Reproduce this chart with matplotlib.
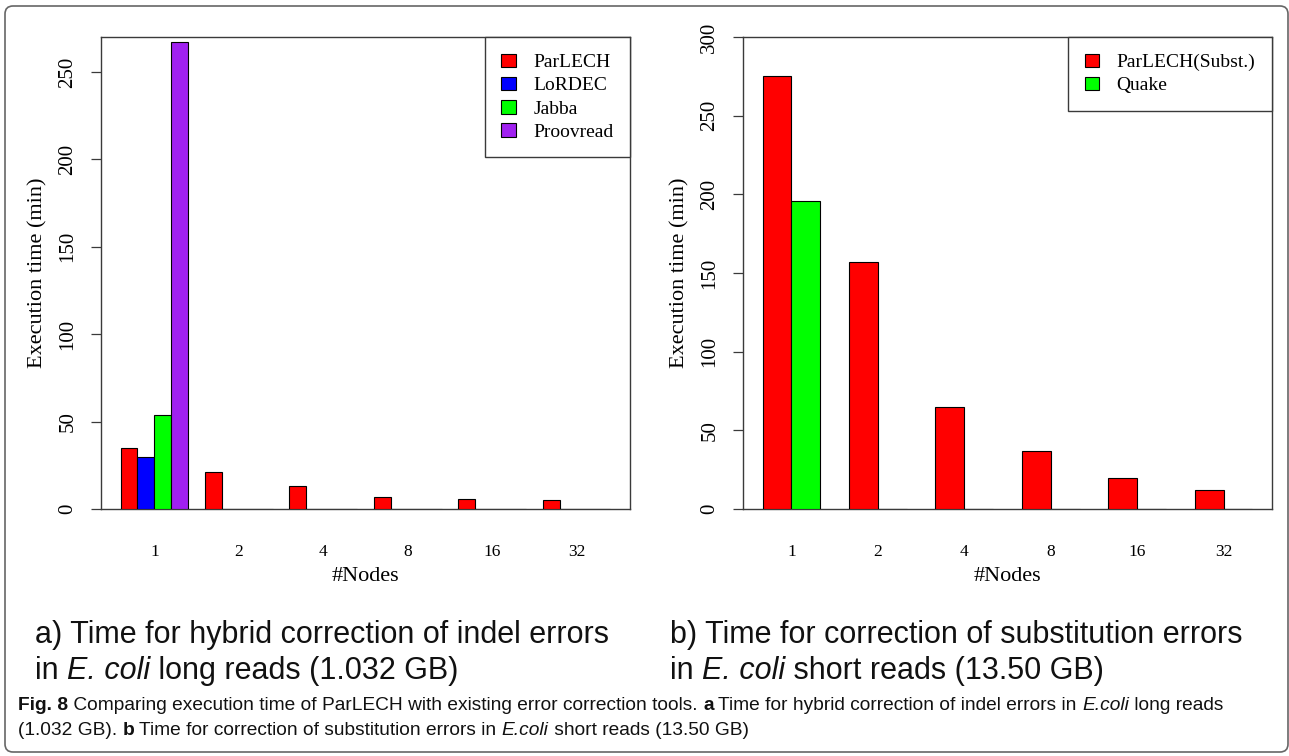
import matplotlib
matplotlib.use('Agg')
import matplotlib.pyplot as plt
import numpy as np
from matplotlib.patches import FancyBboxPatch
from matplotlib.transforms import IdentityTransform

# ---------------- data ----------------
nodes = ['1', '2', '4', '8', '16', '32']

series_a = ['ParLECH', 'LoRDEC', 'Jabba', 'Proovread']
parlech_a = [35, 21, 13, 7, 6, 5]
lordec = [30, 0, 0, 0, 0, 0]
jabba = [54, 0, 0, 0, 0, 0]
proovread = [267, 0, 0, 0, 0, 0]
colors_a = ['#FF0000', '#0000FF', '#00FF00', '#A020F0']
yticks_a = [0, 50, 100, 150, 200, 250]

series_b = ['ParLECH(Subst.)', 'Quake']
parlech_b = [275, 157, 65, 37, 20, 12]
quake = [196, 0, 0, 0, 0, 0]
colors_b = ['#FF0000', '#00FF00']
yticks_b = [0, 50, 100, 150, 200, 250, 300]

xlabel = '#Nodes'
ylabel = 'Execution time (min)'

W, H = 1289, 756
fig = plt.figure(figsize=(W / 100, H / 100), dpi=100)

SERIF = ['Liberation Serif', 'DejaVu Serif']
SANS = ['Liberation Sans', 'DejaVu Sans']
SPINE = '#3a3a3a'


def fx(px):
    return px / W


def fy(py):
    return 1 - py / H


def grouped(rect, data, colors, labels, ylim, yticks):
    ax = fig.add_axes(rect)
    k = len(data)
    n = len(data[0])
    for j, (vals, c, lab) in enumerate(zip(data, colors, labels)):
        x = np.arange(n) * (k + 1) + 1 + j
        ax.bar(x, vals, width=1, align='edge', color=c, edgecolor='black',
               linewidth=0.8, label=lab, zorder=3)
    lo, hi = 1, n * (k + 1)
    pad = (hi - lo) * 0.04
    ax.set_xlim(lo - pad, hi + pad)
    ax.set_ylim(*ylim)
    ax.set_xticks(np.arange(n) * (k + 1) + 1 + k / 2)
    ax.set_xticklabels(nodes, fontfamily=SERIF, fontsize=12.5)
    ax.set_yticks(yticks)
    ax.set_yticklabels([str(v) for v in yticks], fontfamily=SERIF, fontsize=15,
                       rotation=90, va='center')
    ax.tick_params(axis='x', length=0, pad=25)
    ax.tick_params(axis='y', direction='out', length=7, width=0.9,
                   color=SPINE, pad=10)
    for s in ax.spines.values():
        s.set_color(SPINE)
        s.set_linewidth(1.0)
    ax.set_xlabel(xlabel, fontfamily=SERIF, fontsize=16, labelpad=5)
    ax.set_ylabel(ylabel, fontfamily=SERIF, fontsize=16, labelpad=8)
    leg = ax.legend(loc='upper right', bbox_to_anchor=(1, 1), borderaxespad=0,
                    fancybox=False, framealpha=1, edgecolor=SPINE,
                    prop={'family': SERIF, 'size': 14},
                    handlelength=0.75, handleheight=0.7, handletextpad=0.9,
                    borderpad=0.85, labelspacing=0.29)
    leg.get_frame().set_linewidth(1.0)
    return ax


ax_a = grouped([fx(101), fy(509), fx(529) - fx(0), 472 / H],
               [parlech_a, lordec, jabba, proovread], colors_a, series_a,
               (0, 270), yticks_a)
ax_b = grouped([fx(743), fy(509), fx(529) - fx(0), 472 / H],
               [parlech_b, quake], colors_b, series_b,
               (0, 300), yticks_b)

# ---------------- border (display pixels) ----------------
border = FancyBboxPatch((5, H - 752), 1288 - 5, 752 - 6,
                        boxstyle='round,pad=0,rounding_size=8',
                        transform=IdentityTransform(), fill=False,
                        edgecolor='#666666', linewidth=1.2, clip_on=False)
fig.patches.append(border)

# ---------------- rich text helper ----------------
renderer = fig.canvas.get_renderer()


def rich(x, y, runs, size, family):
    for txt, weight, style in runs:
        t = fig.text(fx(x), fy(y), txt, fontsize=size, family=family,
                     fontweight=weight, fontstyle=style, ha='left',
                     va='baseline', color='#111111')
        bb = t.get_window_extent(renderer=renderer)
        x += bb.width


N, B, I = 'normal', 'bold', 'italic'
rich(35, 643, [('a) Time for hybrid correction of indel errors', N, N)], 22, SANS)
rich(35, 679, [('in ', N, N), ('E. coli', N, I), (' long reads (1.032 GB)', N, N)], 22, SANS)
rich(670, 643, [('b) Time for correction of substitution errors', N, N)], 22, SANS)
rich(670, 679, [('in ', N, N), ('E. coli', N, I), (' short reads (13.50 GB)', N, N)], 22, SANS)

rich(18, 710, [('Fig. 8', B, N),
               (' Comparing execution time of ParLECH with existing error correction tools. ', N, N),
               ('a', B, N),
               (' Time for hybrid correction of indel errors in ', N, N),
               ('E.coli', N, I), (' long reads', N, N)], 13.8, SANS)
rich(18, 735, [('(1.032 GB). ', N, N), ('b', B, N),
               (' Time for correction of substitution errors in ', N, N),
               ('E.coli', N, I), (' short reads (13.50 GB)', N, N)], 13.8, SANS)

fig.savefig('out.png', dpi=100)
